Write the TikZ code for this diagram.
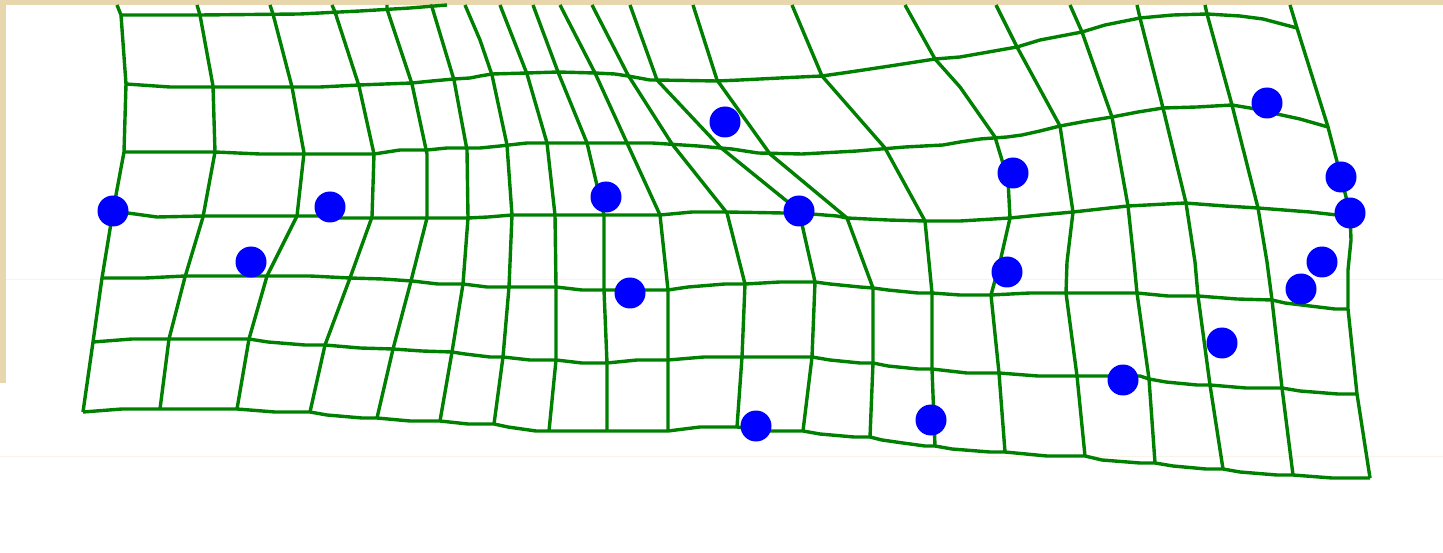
\documentclass[tikz,border=0pt]{standalone}
\definecolor{parch}{RGB}{232,214,172}
\definecolor{gridgreen}{RGB}{0,128,0}
\definecolor{dotblue}{RGB}{0,0,255}
\definecolor{faint}{RGB}{248,244,232}
\tikzset{
  gridline/.style={draw=gridgreen, line width=3.4pt, line join=round, line cap=butt},
  landmark/.style={fill=dotblue},
}
\begin{document}
\begin{tikzpicture}[x=1pt,y=-1pt]
\useasboundingbox (0,0) rectangle (1443,553);
% background
\fill[parch] (0,0) rectangle (1443,553);
\fill[white] (6,5) rectangle (1443,553);
\fill[white] (0,383) rectangle (6,553);
\draw[faint, line width=1pt] (6,280) -- (1443,280);
\draw[faint, line width=1pt] (0,456) -- (1443,456);
% ---- rows ----
\draw[gridline] plot coordinates {(121,15) (200,15) (300,14) (360,11) (410,8) (447,5)};
\draw[gridline] plot coordinates {(126,84) (170,87) (213,87) (292,87) (320,87) (359,85) (385,84) (412,83) (432,81) (454,79) (470,78) (480,76) (492,74) (527,73) (558,72) (595,73) (615,74) (628,76) (650,80) (657,80) (717,81) (740,80) (800,77) (822,76) (850,72) (890,66) (935,59) (960,57) (1017,47) (1040,40) (1082,32) (1105,25) (1140,18) (1173,15) (1207,14) (1240,16) (1263,19) (1297,28)};
\draw[gridline] plot coordinates {(124,152) (215,152) (260,154) (304,154) (374,154) (400,150) (427,150) (447,148) (467,148) (480,148) (500,146) (527,143) (587,143) (652,143) (698,146) (732,149) (758,153) (802,154) (857,151) (905,147) (943,145) (960,142) (980,139) (1007,137) (1022,135) (1040,131) (1060,126) (1087,121) (1112,117) (1138,112) (1163,108) (1197,107) (1232,105) (1250,108) (1277,114) (1300,119) (1328,127)};
\draw[gridline] plot coordinates {(113,211) (157,217) (203,216) (297,216) (320,216) (340,218) (372,218) (427,218) (468,218) (488,217) (512,215) (555,215) (604,215) (660,215) (692,212) (727,212) (783,213) (799,213) (837,216) (847,218) (888,220) (925,221) (960,221) (1010,218) (1040,215) (1073,212) (1100,209) (1128,206) (1185,203) (1225,206) (1258,208) (1310,212) (1337,215) (1350,213)};
\draw[gridline] plot coordinates {(102,278) (145,278) (185,276) (267,276) (310,276) (350,278) (383,279) (412,281) (438,284) (463,284) (487,287) (509,287) (556,287) (582,290) (604,290) (668,290) (688,287) (725,284) (745,284) (780,282) (815,282) (830,284) (860,287) (873,288) (888,290) (918,293) (932,293) (960,295) (991,295) (1030,293) (1066,293) (1137,293) (1168,296) (1198,296) (1237,299) (1272,300) (1285,303) (1310,306) (1335,309) (1348,309)};
\draw[gridline] plot coordinates {(93,342) (132,339) (169,339) (249,339) (268,342) (305,345) (325,345) (360,348) (393,349) (422,351) (452,352) (465,354) (490,357) (503,357) (530,360) (556,360) (582,363) (607,363) (637,360) (668,360) (704,357) (742,357) (812,357) (830,360) (860,363) (873,363) (888,366) (918,369) (932,369) (967,373) (999,373) (1038,376) (1077,376) (1140,376) (1149,379) (1166,382) (1197,385) (1210,385) (1246,388) (1282,388) (1300,391) (1338,394) (1357,394)};
\draw[gridline] plot coordinates {(83,412) (122,409) (160,409) (237,409) (275,412) (310,412) (327,415) (362,418) (377,418) (410,421) (440,421) (468,424) (494,424) (508,427) (536,431) (549,431) (607,431) (668,431) (700,427) (737,427) (770,431) (803,431) (820,434) (854,437) (870,437) (882,440) (903,443) (925,446) (935,446) (952,449) (990,452) (1005,452) (1047,456) (1085,456) (1102,460) (1140,463) (1155,463) (1173,466) (1206,469) (1223,469) (1240,472) (1277,475) (1293,475) (1332,478) (1370,478)};
% ---- columns ----
\draw[gridline] plot coordinates {(117,5) (121,15) (126,84) (124,152) (113,211) (102,278) (93,342) (83,412)};
\draw[gridline] plot coordinates {(197,5) (200,15) (213,86) (215,152) (203,217) (185,277) (169,339) (160,409)};
\draw[gridline] plot coordinates {(270,5) (273,14) (292,87) (304,153) (297,216) (267,276) (249,339) (237,409)};
\draw[gridline] plot coordinates {(332,5) (335,12) (359,86) (374,154) (372,217) (350,278) (325,345) (310,412)};
\draw[gridline] plot coordinates {(387,5) (387,9) (412,84) (427,154) (427,218) (411,281) (393,349) (377,418)};
\draw[gridline] plot coordinates {(430,5) (432,7) (454,80) (467,150) (468,218) (463,284) (452,352) (440,421)};
\draw[gridline] plot coordinates {(465,5) (480,40) (492,75) (507,145) (512,215) (509,287) (503,357) (494,424)};
\draw[gridline] plot coordinates {(500,5) (527,74) (547,143) (555,215) (556,287) (556,360) (549,431)};
\draw[gridline] plot coordinates {(533,5) (558,72) (587,143) (604,215) (604,290) (607,363) (607,431)};
\draw[gridline] plot coordinates {(560,5) (595,73) (627,143) (660,215) (668,290) (668,360) (668,431)};
\draw[gridline] plot coordinates {(592,5) (628,75) (672,144) (727,213) (745,284) (742,357) (737,427)};
\draw[gridline] plot coordinates {(630,5) (657,80) (720,147) (799,211) (815,282) (812,357) (803,431)};
\draw[gridline] plot coordinates {(693,5) (717,80) (770,154) (847,218) (873,288) (873,363) (870,437)};
\draw[gridline] plot coordinates {(792,5) (822,76) (885,148) (925,221) (932,293) (932,369) (935,446)};
\draw[gridline] plot coordinates {(905,5) (935,59) (960,87) (995,137) (1008,180) (1010,218) (1000,262) (991,295) (999,373) (1005,452)};
\draw[gridline] plot coordinates {(996,5) (1017,47) (1060,126) (1073,212) (1067,262) (1066,293) (1077,376) (1085,456)};
\draw[gridline] plot coordinates {(1070,5) (1082,32) (1112,117) (1128,206) (1134,262) (1137,293) (1149,379) (1155,463)};
\draw[gridline] plot coordinates {(1137,5) (1140,18) (1163,108) (1186,203) (1195,262) (1198,296) (1210,385) (1223,469)};
\draw[gridline] plot coordinates {(1205,5) (1207,14) (1232,105) (1258,208) (1267,262) (1272,300) (1282,388) (1293,475)};
\draw[gridline] plot coordinates {(1290,5) (1297,28) (1328,127) (1341,177) (1350,213) (1351,240) (1348,270) (1348,309) (1357,394) (1370,478)};
% ---- landmarks ----
\foreach \p in {(113,211),(330,207),(251,262),(606,197),(725,122),(799,211),(630,293),(756,426),(931,420),(1013,173),(1007,272),(1267,103),(1341,177),(1350,213),(1322,262),(1301,289),(1222,343),(1123,380)}
  \fill[landmark] \p circle (15.5);
\end{tikzpicture}
\end{document}
